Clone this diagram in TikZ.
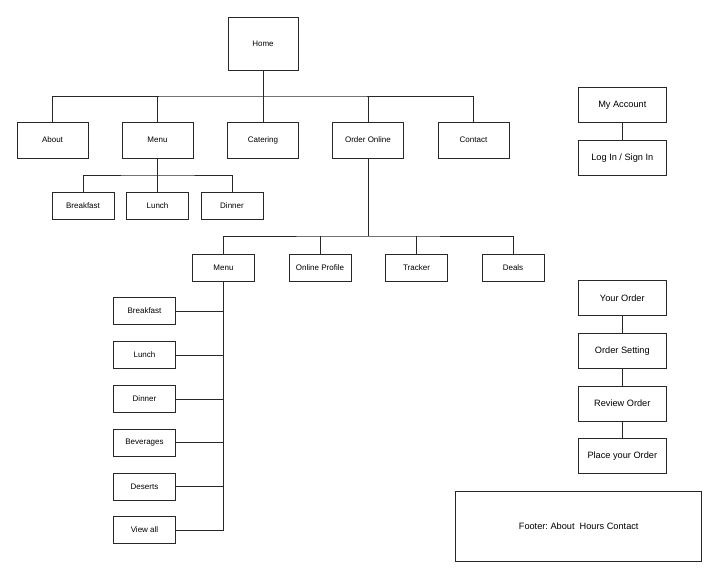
\documentclass[tikz,border=0pt]{standalone}
\usepackage{fontspec}
\setmainfont{Liberation Sans}
\usepackage{tikz}
\usetikzlibrary{positioning}
\definecolor{linegray}{RGB}{40, 40, 40}
\frenchspacing

\begin{document}
\begin{tikzpicture}[
    x=1pt, y=-1pt,
    page/.style={rectangle, draw=linegray, line width=1pt, inner sep=1pt, font=\fontsize{8}{9}\selectfont},
    flow/.style={rectangle, draw=linegray, line width=1pt, minimum width=88pt, minimum height=35pt, inner sep=1pt, font=\fontsize{9.2}{11}\selectfont},
    link/.style={draw=linegray, line width=0.9pt}
]
    \useasboundingbox (0,0) rectangle (719,579);

    % Main site tree
    \node[page, minimum width=70pt, minimum height=53pt] (home) at (263,43.5) {Home};
    \node[page, minimum width=71pt, minimum height=36pt] (about) at (52.5,140) {About};
    \node[page, minimum width=71pt, minimum height=36pt] (menu) at (157.5,140) {Menu};
    \node[page, minimum width=71pt, minimum height=36pt] (catering) at (263,140) {Catering};
    \node[page, minimum width=71pt, minimum height=36pt] (order) at (368,140) {Order Online};
    \node[page, minimum width=71pt, minimum height=36pt] (contact) at (473.5,140) {Contact};

    \coordinate (topbus) at (263,96);
    \draw[link] (home) -- (catering);
    \draw[link] (about.north) |- (topbus) -| (contact.north);
    \draw[link] (menu.north) -- (menu.north |- topbus);
    \draw[link] (order.north) -- (order.north |- topbus);

    % Menu pages
    \node[page, minimum width=62pt, minimum height=27pt] (breakfast) at (83,205.5) {Breakfast};
    \node[page, minimum width=62pt, minimum height=27pt] (lunch) at (157.5,205.5) {Lunch};
    \node[page, minimum width=62pt, minimum height=27pt] (dinner) at (232,205.5) {Dinner};

    \coordinate (menubus) at (157.5,175);
    \draw[link] (menu) -- (lunch);
    \draw[link] (breakfast.north) |- (menubus) -| (dinner.north);

    % Order online pages
    \node[page, minimum width=62pt, minimum height=27pt] (omenu) at (223.5,267.5) {Menu};
    \node[page, minimum width=62pt, minimum height=27pt] (profile) at (320,267.5) {Online Profile};
    \node[page, minimum width=62pt, minimum height=27pt] (tracker) at (416.5,267.5) {Tracker};
    \node[page, minimum width=62pt, minimum height=27pt] (deals) at (513,267.5) {Deals};

    \coordinate (orderbus) at (368,236);
    \draw[link] (order.south) -- (orderbus);
    \draw[link] (omenu.north) |- (orderbus) -| (deals.north);
    \draw[link] (profile.north) -- (profile.north |- orderbus);
    \draw[link] (tracker.north) -- (tracker.north |- orderbus);

    % Online menu list
    \node[page, minimum width=62pt, minimum height=27pt] (obreakfast) at (144.5,311) {Breakfast};
    \node[page, minimum width=62pt, minimum height=27pt] (olunch) at (144.5,355) {Lunch};
    \node[page, minimum width=62pt, minimum height=27pt] (odinner) at (144.5,399) {Dinner};
    \node[page, minimum width=62pt, minimum height=27pt] (obeverages) at (144.5,442.7) {Beverages};
    \node[page, minimum width=62pt, minimum height=27pt] (odeserts) at (144.5,486.7) {Deserts};
    \node[page, minimum width=62pt, minimum height=27pt] (oviewall) at (144.5,530) {View all};

    \draw[link] (omenu.south) |- (oviewall.east);
    \foreach \item in {obreakfast, olunch, odinner, obeverages, odeserts}
        \draw[link] (\item.east) -- (\item.east -| omenu.south);

    % Account
    \node[flow] (account) at (622.3,105.2) {My Account};
    \node[flow] (login) at (622.3,157.7) {Log In / Sign In};
    \draw[link] (account) -- (login);

    % Checkout steps
    \node[flow] (yourorder) at (622.3,298.3) {Your Order};
    \node[flow] (setting) at (622.3,350.8) {Order Setting};
    \node[flow] (review) at (622.3,403.5) {Review Order};
    \node[flow] (place) at (622.3,455.8) {Place your Order};
    \draw[link] (yourorder) -- (setting);
    \draw[link] (setting) -- (review);
    \draw[link] (review) -- (place);

    % Footer
    \node[flow, minimum width=246pt, minimum height=70pt] (footer) at (578.7,526.2) {Footer: About~ Hours Contact};
\end{tikzpicture}
\end{document}
